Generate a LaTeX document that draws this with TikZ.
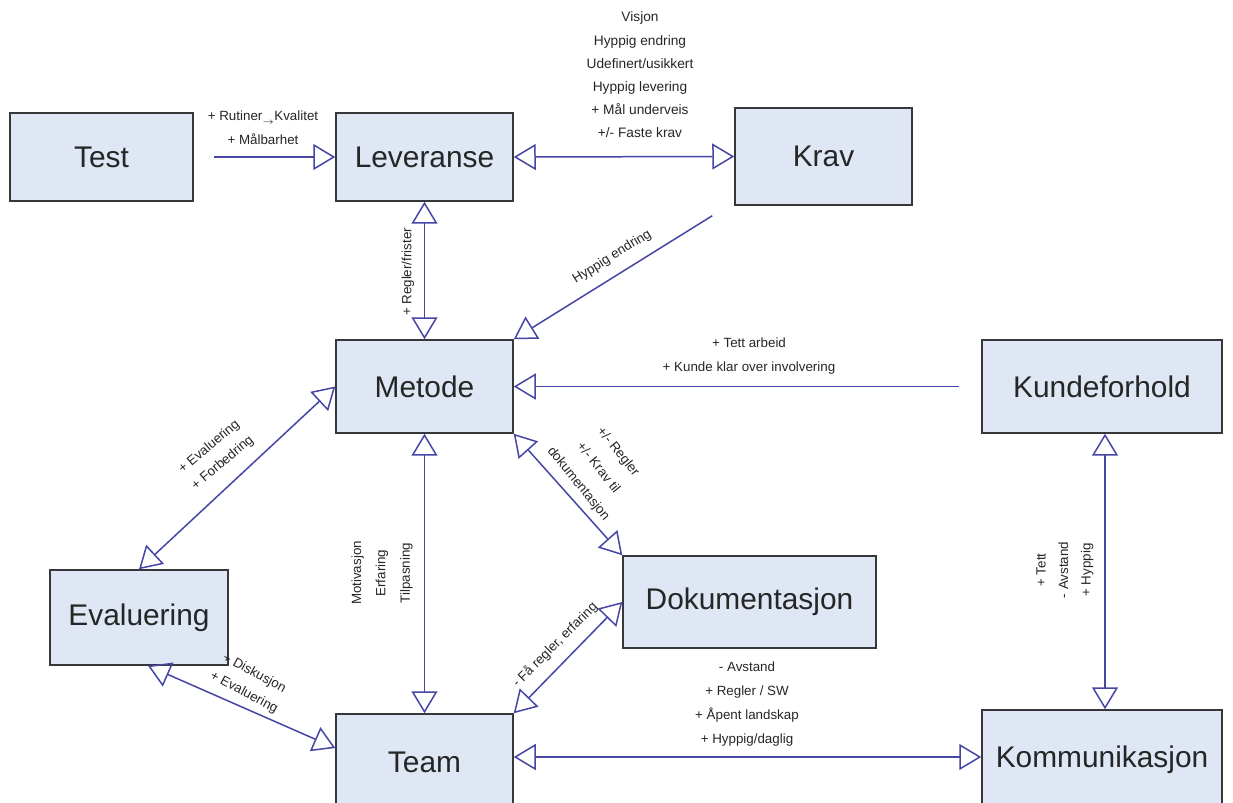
\documentclass[tikz,border=0pt]{standalone}
\usepackage{fontspec}
\setmainfont{Liberation Sans}
\usetikzlibrary{arrows.meta,calc}

% one unit of the drawing grid
\newlength\pxu
\setlength\pxu{0.02cm}

\definecolor{boxfill}{RGB}{222,231,243}
\definecolor{boxedge}{RGB}{55,55,60}
\definecolor{linkblue}{RGB}{70,70,165}

\tikzset{
  box/.style={draw=boxedge, line width=0.03cm, fill=boxfill, inner sep=0pt,
    font=\fontsize{17}{20}\selectfont, text=black!85},
  link/.style={draw=linkblue, line width=0.03cm},
  one/.style={link, -{Triangle[open, length=0.44cm, width=0.52cm]}},
  both/.style={link, {Triangle[open, length=0.44cm, width=0.52cm]}-{Triangle[open, length=0.44cm, width=0.52cm]}},
  lbl/.style={inner sep=0pt, align=center, text=black!85,
    font=\fontsize{7.6}{13.4}\selectfont},
}

\begin{document}
\begin{tikzpicture}[x=0.02cm, y=-0.02cm]
\useasboundingbox (0,0) rectangle (1233,803);
\clip (0,0) rectangle (1233,803);
\fill[white] (0,0) rectangle (1233,803);

% boxes
\node[box, minimum width=183\pxu, minimum height=88\pxu] (test) at (101.5,157) {Test};
\node[box, minimum width=177\pxu, minimum height=88\pxu] (lev) at (424.5,157) {Leveranse};
\node[box, minimum width=177\pxu, minimum height=97\pxu] (krav) at (823.5,156.5) {Krav};
\node[box, minimum width=177\pxu, minimum height=93\pxu] (met) at (424.5,386.5) {Metode};
\node[box, minimum width=240\pxu, minimum height=93\pxu] (kun) at (1102,386.5) {Kundeforhold};
\node[box, minimum width=178\pxu, minimum height=95\pxu] (eva) at (139,617.5) {Evaluering};
\node[box, minimum width=253\pxu, minimum height=92\pxu] (dok) at (749.5,602) {Dokumentasjon};
\node[box, minimum width=177\pxu, minimum height=96\pxu] (team) at (424.5,762) {Team};
\node[box, minimum width=240\pxu, minimum height=100\pxu] (kom) at (1102,760) {Kommunikasjon};

% connectors
\draw[one] ([xshift=20\pxu]test.east) -- (lev.west);
\draw[both] (lev.east) -- (krav.west);
\draw[both] (lev.south) -- (met.north);
\draw[one] ([xshift=-22\pxu, yshift=-10\pxu]krav.south west) -- (met.north east);
\draw[one] ([xshift=-22\pxu]kun.west) -- (met.east);
\draw[both] (met.west) -- (eva.north);
\draw[both] (met.south) -- (team.north);
\draw[both] (met.south east) -- (dok.north west);
\draw[both] (team.north east) -- (dok.west);
\draw[both] ([xshift=9\pxu]eva.south) -- ([yshift=14\pxu]team.west);
\draw[both] ([yshift=5\pxu]team.east) -- ([yshift=3\pxu]kom.west);
\draw[both] ([xshift=3\pxu]kun.south) -- ([xshift=3\pxu]kom.north);

% connector labels
\node[lbl] (l-test) at (263,128) {+ Rutiner\raisebox{-2pt}{$\scriptstyle\rightarrow$}Kvalitet\\+ Målbarhet};
\node[lbl, font=\fontsize{7.8}{13.2}\selectfont] (l-krav) at (640,75)
  {Visjon\\Hyppig endring\\Udefinert/usikkert\\Hyppig levering\\+ Mål underveis\\+/- Faste krav};
\node[lbl, rotate=90] (l-lev) at (408,272) {+ Regler/frister};
\node[lbl, rotate=32] (l-kravmet) at (612,257) {Hyppig endring};
\node[lbl] (l-kun) at (749,356) {+ Tett arbeid\\+ Kunde klar over involvering};
\node[lbl, rotate=40, font=\fontsize{7.6}{12}\selectfont] (l-eva) at (216,455) {+ Evaluering\\+ Forbedring};
\node[lbl, rotate=-51, font=\fontsize{7.6}{14.5}\selectfont] (l-dok) at (598,468)
  {+/- Regler\\+/- Krav til\\dokumentasjon};
\node[lbl, rotate=90, font=\fontsize{7.6}{13.9}\selectfont] (l-team) at (382,573)
  {Motivasjon\\Erfaring\\Tilpasning};
\node[lbl, rotate=45] (l-doktea) at (555,645) {- Få regler, erfaring};
\node[lbl, rotate=-28, font=\fontsize{7.6}{12.5}\selectfont] (l-evatea) at (249,683) {+ Diskusjon\\+ Evaluering};
\node[lbl, font=\fontsize{7.6}{13.6}\selectfont] (l-kom) at (747,704)
  {- Avstand\\+ Regler / SW\\+ Åpent landskap\\+ Hyppig/daglig};
\node[lbl, rotate=90, font=\fontsize{7.6}{12.8}\selectfont] (l-kunkom) at (1065,570)
  {+ Tett\\- Avstand\\+ Hyppig};
\end{tikzpicture}
\end{document}
